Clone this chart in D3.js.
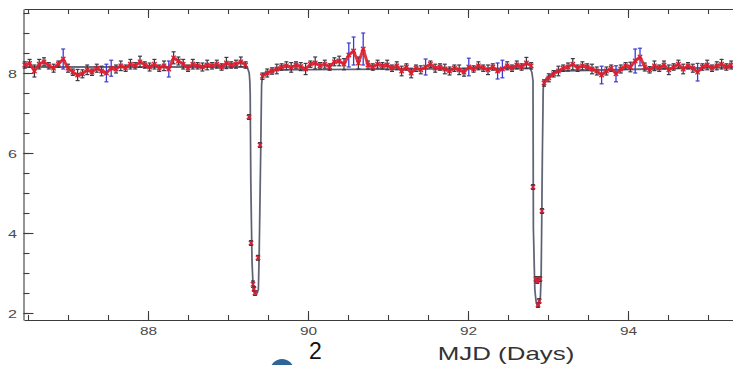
<!DOCTYPE html>
<html><head><meta charset="utf-8">
<script src="https://cdn.jsdelivr.net/npm/d3@7"></script>
<style>body{margin:0;background:#fff;} svg{display:block;font-family:"Liberation Sans",Arial,sans-serif;}</style>
</head><body>
<svg id="chart" width="733" height="365"></svg>
<script>
// Observations: [MJD, magnitude, error]
const segmentA = [
 [86.46,8.20,0.08],[86.52,8.24,0.10],[86.58,8.05,0.15],[86.64,8.22,0.12],[86.70,8.28,0.10],
 [86.76,8.18,0.08],[86.82,8.12,0.10],[86.88,8.22,0.08],[86.94,8.35,0.25],[87.00,8.12,0.10],
 [87.06,8.02,0.08],[87.12,7.95,0.14],[87.18,7.98,0.10],[87.24,8.08,0.12],[87.30,8.02,0.08],
 [87.36,8.12,0.10],[87.42,8.05,0.12],[87.48,8.00,0.22],[87.54,8.12,0.20],[87.60,8.10,0.10],
 [87.66,8.18,0.12],[87.72,8.12,0.08],[87.78,8.22,0.12],[87.84,8.18,0.08],[87.90,8.28,0.14],
 [87.96,8.20,0.08],[88.02,8.15,0.10],[88.08,8.22,0.12],[88.14,8.12,0.08],[88.20,8.18,0.12],
 [88.26,8.10,0.20],[88.32,8.38,0.15],[88.38,8.30,0.10],[88.44,8.22,0.12],[88.50,8.12,0.08],
 [88.56,8.22,0.12],[88.62,8.18,0.08],[88.68,8.15,0.10],[88.74,8.20,0.12],[88.80,8.18,0.08],
 [88.86,8.22,0.10],[88.92,8.15,0.08],[88.98,8.25,0.14],[89.04,8.20,0.08],[89.10,8.22,0.10],
 [89.16,8.28,0.12],[89.22,8.20,0.08]
];
const eclipse1 = [
 [89.2625,6.90,0.06],[89.2875,3.75,0.06],[89.3125,2.72,0.08],[89.325,2.60,0.06],
 [89.3375,2.50,0.06],[89.375,3.38,0.06],[89.40,6.20,0.06]
];
const segmentB = [
 [89.43,7.92,0.08],[89.49,8.00,0.10],[89.55,8.05,0.08],[89.61,8.10,0.12],[89.67,8.15,0.08],
 [89.73,8.18,0.10],[89.79,8.14,0.12],[89.85,8.20,0.08],[89.91,8.16,0.10],[89.97,8.10,0.14],
 [90.03,8.22,0.08],[90.09,8.25,0.15],[90.15,8.18,0.08],[90.21,8.22,0.10],[90.27,8.15,0.08],
 [90.33,8.28,0.10],[90.39,8.30,0.12],[90.45,8.22,0.14],[90.51,8.45,0.30],[90.57,8.55,0.35],
 [90.63,8.25,0.15],[90.69,8.60,0.40],[90.75,8.20,0.10],[90.81,8.15,0.08],[90.87,8.22,0.10],
 [90.93,8.18,0.08],[90.99,8.20,0.12],[91.05,8.12,0.08],[91.11,8.18,0.10],[91.17,8.05,0.12],
 [91.23,8.15,0.08],[91.29,8.00,0.12],[91.35,8.12,0.08],[91.41,8.08,0.10],[91.47,8.15,0.20],
 [91.53,8.22,0.08],[91.59,8.12,0.10],[91.65,8.15,0.08],[91.71,8.10,0.12],[91.77,8.05,0.10],
 [91.83,8.12,0.08],[91.89,8.08,0.12],[91.95,8.02,0.10],[92.01,8.15,0.22],[92.07,8.10,0.08],
 [92.13,8.18,0.10],[92.19,8.12,0.08],[92.25,8.08,0.12],[92.31,8.15,0.08],[92.37,8.05,0.20],
 [92.43,8.10,0.22],[92.49,8.18,0.10],[92.55,8.12,0.08],[92.61,8.20,0.10],[92.67,8.15,0.08],
 [92.73,8.25,0.14],[92.79,8.18,0.08]
];
const eclipse2 = [
 [92.8125,5.15,0.06],[92.85,2.85,0.06],[92.865,2.80,0.06],[92.875,2.20,0.06],
 [92.89,2.30,0.06],[92.90,2.85,0.06],[92.925,4.55,0.06]
];
const segmentC = [
 [92.95,7.75,0.08],[93.01,7.88,0.10],[93.07,7.98,0.08],[93.13,8.05,0.12],[93.19,8.12,0.08],
 [93.25,8.15,0.10],[93.31,8.22,0.14],[93.37,8.12,0.08],[93.43,8.18,0.10],[93.49,8.15,0.08],
 [93.55,8.10,0.12],[93.61,8.05,0.10],[93.67,7.95,0.22],[93.73,8.05,0.10],[93.79,8.12,0.08],
 [93.85,7.98,0.20],[93.91,8.10,0.10],[93.97,8.18,0.08],[94.03,8.15,0.12],[94.09,8.30,0.30],
 [94.15,8.40,0.22],[94.21,8.15,0.10],[94.27,8.08,0.08],[94.33,8.18,0.12],[94.39,8.12,0.08],
 [94.45,8.20,0.10],[94.51,8.08,0.12],[94.57,8.15,0.08],[94.63,8.22,0.10],[94.69,8.10,0.12],
 [94.75,8.18,0.08],[94.81,8.12,0.10],[94.87,8.02,0.22],[94.93,8.15,0.08],[94.99,8.20,0.12],
 [95.05,8.12,0.08],[95.11,8.18,0.10],[95.17,8.22,0.12],[95.23,8.15,0.08],[95.29,8.20,0.10]
];
// Model light curve: [MJD, magnitude]
const modelCurve = [
 [86.45,8.15],[89.24,8.15],[89.265,8.0],[89.2725,7.8],[89.2775,7.5],[89.285,5.3],[89.30,3.3],
 [89.315,2.6],[89.33,2.5],[89.365,2.5],[89.38,2.6],[89.39,3.5],[89.405,5.5],[89.42,7.7],
 [89.43,7.95],[89.46,8.0],[89.60,8.08],[92.78,8.12],[92.80,8.0],[92.8125,7.8],[92.8175,4.1],
 [92.835,2.6],[92.85,2.3],[92.87,2.15],[92.885,2.15],[92.905,2.4],[92.915,3.0],[92.93,6.0],
 [92.94,7.6],[92.95,7.75],[92.98,7.88],[93.10,8.05],[95.45,8.15]
];
const xTicks = [88, 90, 92, 94];
const xMinorTicks = [86.5,87,87.5,88,88.5,89,89.5,90,90.5,91,91.5,92,92.5,93,93.5,94,94.5,95];
const yTicks = [2, 4, 6, 8];
const yMinorTicks = [2,2.5,3,3.5,4,4.5,5,5.5,6,6.5,7,7.5,8,8.5,9,9.5];
const xLabel = "MJD (Days)";
const slideNumber = "2";

const svg = d3.select("#chart");
const x = d3.scaleLinear().domain([86.45, 95.45]).range([24, 744]);
const y = d3.scaleLinear().domain([1.825, 9.6]).range([320, 9]);
const axisColor = "#3c3c3c";
const SX = 1.4; // horizontal stretch of the source image text

function styleAxis(g){
  g.selectAll("path,line").attr("stroke", axisColor).attr("stroke-width", 1.1);
}
// bottom axis
const gB = svg.append("g").attr("transform","translate(0,320)");
gB.call(d3.axisBottom(x).tickValues(xMinorTicks).tickSize(-5).tickSizeOuter(0).tickFormat("")).call(styleAxis);
gB.append("g").call(d3.axisBottom(x).tickValues(xTicks).tickSize(-9).tickSizeOuter(0).tickPadding(10)
   .tickFormat(d3.format("d"))).call(styleAxis).call(g=>g.select(".domain").remove());
gB.selectAll("text").attr("font-size",11).attr("fill","#4a4a4a").attr("font-family","Liberation Sans, Arial")
  .attr("y",15.5).attr("dy",0).attr("transform",`scale(${SX},1)`);
// top axis
const gT = svg.append("g").attr("transform","translate(0,9)");
gT.call(d3.axisTop(x).tickValues(xMinorTicks).tickSize(-5).tickSizeOuter(0).tickFormat("")).call(styleAxis);
gT.append("g").call(d3.axisTop(x).tickValues(xTicks).tickSize(-9).tickSizeOuter(0).tickFormat(""))
  .call(styleAxis).call(g=>g.select(".domain").remove());
// left axis
const gL = svg.append("g").attr("transform","translate(23.5,0)");
gL.call(d3.axisLeft(y).tickValues(yMinorTicks).tickSize(-6).tickSizeOuter(0).tickFormat("")).call(styleAxis);
gL.append("g").call(d3.axisLeft(y).tickValues(yTicks).tickSize(-10).tickSizeOuter(0).tickFormat(d3.format("d")))
  .call(styleAxis).call(g=>g.select(".domain").remove());
gL.selectAll("text").attr("font-size",11.5).attr("fill","#4a4a4a").attr("font-family","Liberation Sans, Arial")
  .attr("x",-6.5/SX).attr("dy","0.36em").attr("transform",`scale(${SX},1)`);

const plot = svg.append("g");
const allPoints = [...segmentA, ...eclipse1, ...segmentB, ...eclipse2, ...segmentC];

// model curve
plot.append("path").datum(modelCurve)
  .attr("d", d3.line().x(d=>x(d[0])).y(d=>y(d[1])))
  .attr("fill","none").attr("stroke","#7a7f8e").attr("stroke-width",1.8);
plot.append("path").datum(modelCurve)
  .attr("d", d3.line().x(d=>x(d[0])).y(d=>y(d[1])))
  .attr("fill","none").attr("stroke","#4a4f60").attr("stroke-width",0.7);

// error bars
const eb = plot.append("g");
const ebColor = d => d[2] >= 0.18 ? "#3b3bcf" : "#3a3a48";
eb.selectAll("line.v").data(allPoints).join("line").attr("class","v")
  .attr("x1",d=>x(d[0])).attr("x2",d=>x(d[0]))
  .attr("y1",d=>y(d[1]-d[2])).attr("y2",d=>y(d[1]+d[2]))
  .attr("stroke",ebColor).attr("stroke-width",1.3);
eb.selectAll("line.top").data(allPoints).join("line").attr("class","top")
  .attr("x1",d=>x(d[0])-2).attr("x2",d=>x(d[0])+2)
  .attr("y1",d=>y(d[1]+d[2])).attr("y2",d=>y(d[1]+d[2]))
  .attr("stroke",ebColor).attr("stroke-width",1.2);
eb.selectAll("line.bot").data(allPoints).join("line").attr("class","bot")
  .attr("x1",d=>x(d[0])-2).attr("x2",d=>x(d[0])+2)
  .attr("y1",d=>y(d[1]-d[2])).attr("y2",d=>y(d[1]-d[2]))
  .attr("stroke",ebColor).attr("stroke-width",1.2);

// red data line through out-of-eclipse segments
const redLine = d3.line().curve(d3.curveLinear).x(d=>x(d[0])).y(d=>y(d[1]));
[segmentA, segmentB, segmentC].forEach(seg=>{
  plot.append("path").datum(seg).attr("d", redLine)
    .attr("fill","none").attr("stroke","#e0202c").attr("stroke-width",3)
    .attr("stroke-linejoin","round").attr("opacity",0.9);
});
// red x markers
const mk = plot.append("g").attr("stroke","#d81e30").attr("stroke-width",1.3);
mk.selectAll("path").data(allPoints).join("path")
  .attr("d", d=>{const cx=x(d[0]), cy=y(d[1]), s=2.2;
     return `M${cx-s},${cy-s}L${cx+s},${cy+s}M${cx-s},${cy+s}L${cx+s},${cy-s}`;});

// x-axis title
svg.append("text").attr("transform",`translate(506,360) scale(${SX},1)`)
  .attr("text-anchor","middle").attr("font-size",18.5).attr("fill","#333")
  .attr("font-family","Liberation Sans, Arial").text(xLabel);

// slide overlay: bullet and number
svg.append("circle").attr("cx",282).attr("cy",371).attr("r",12).attr("fill","#2f6496");
svg.append("text").attr("x",309).attr("y",359).attr("font-size",23).attr("fill","#111")
  .attr("font-family","Liberation Sans, Arial").text(slideNumber);
</script>
</body></html>
